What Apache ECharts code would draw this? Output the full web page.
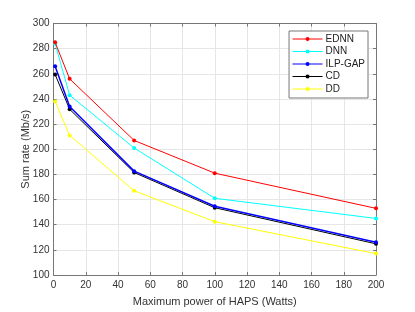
<!DOCTYPE html>
<html><head><meta charset="utf-8">
<script src="https://cdn.jsdelivr.net/npm/echarts@6/dist/echarts.min.js"></script>
<style>html,body{margin:0;padding:0;background:#fff}#c{width:415px;height:312px}</style>
</head><body><div id="c"></div>
<script>
const xValues = [1, 10, 50, 100, 200];
const seriesNames = ['EDNN', 'DNN', 'ILP-GAP', 'CD', 'DD'];
const ednn = [285, 256, 207, 181, 153];
const dnn = [284, 243, 201, 161, 145];
const ilpGap = [266, 234, 182.6, 154.7, 126];
const cd = [259.5, 231.8, 181.5, 153.5, 124.8];
const dd = [238, 211, 167, 142.4, 117];
const xTicks = [0, 20, 40, 60, 80, 100, 120, 140, 160, 180, 200];
const yTicks = [100, 120, 140, 160, 180, 200, 220, 240, 260, 280, 300];

const colors = ['#ff0000', '#00ffff', '#0000ff', '#000000', '#ffff00'];
const widths = [1, 1, 1.5, 1, 1];
const allData = [ednn, dnn, ilpGap, cd, dd];

const chart = echarts.init(document.getElementById('c'));
const font = 'Liberation Sans, Arial, sans-serif';
const axisCol = '#777';
const baseX = {
  type: 'value', min: xTicks[0], max: xTicks[xTicks.length - 1], interval: xTicks[1] - xTicks[0],
  axisLine: {show: true, onZero: false, lineStyle: {color: axisCol, width: 1}},
  axisTick: {show: true, inside: true, length: 3, lineStyle: {color: axisCol}},
  splitLine: {show: false}
};
const baseY = {
  type: 'value', min: yTicks[0], max: yTicks[yTicks.length - 1], interval: yTicks[1] - yTicks[0],
  axisLine: {show: true, onZero: false, lineStyle: {color: axisCol, width: 1}},
  axisTick: {show: true, inside: true, length: 3, lineStyle: {color: axisCol}},
  splitLine: {show: false}
};
chart.setOption({
  animation: false,
  grid: {left: 53.5, right: 39, top: 23.5, bottom: 35, containLabel: false},
  legend: {
    data: seriesNames, orient: 'vertical', right: 47, top: 31,
    backgroundColor: '#fff', borderColor: '#777', borderWidth: 1, borderRadius: 0,
    padding: [2, 3, 3, 3], itemGap: 0.5, itemWidth: 30, itemHeight: 5,
    lineStyle: {width: 1},
    textStyle: {fontFamily: font, fontSize: 10, color: '#222', padding: [0, 0, 0, -2], lineHeight: 12}
  },
  xAxis: [
    Object.assign({}, baseX, {
      position: 'bottom',
      name: 'Maximum power of HAPS (Watts)', nameLocation: 'middle', nameGap: 21,
      nameMoveOverlap: false,
      nameTextStyle: {fontFamily: font, fontSize: 11, color: '#333'},
      axisLabel: {fontFamily: font, fontSize: 10, color: '#333', margin: 5},
      splitLine: {show: true, lineStyle: {color: '#e6e6e6', width: 1}}
    }),
    Object.assign({}, baseX, {position: 'top', axisLabel: {show: false}})
  ],
  yAxis: [
    Object.assign({}, baseY, {
      position: 'left',
      name: 'Sum rate (Mb/s)', nameLocation: 'middle', nameGap: 28,
      nameMoveOverlap: false,
      nameTextStyle: {fontFamily: font, fontSize: 11, color: '#333', verticalAlign: 'middle'},
      axisLabel: {fontFamily: font, fontSize: 10, color: '#333', margin: 4},
      splitLine: {show: true, lineStyle: {color: '#e6e6e6', width: 1}}
    }),
    Object.assign({}, baseY, {position: 'right', axisLabel: {show: false}})
  ],
  series: seriesNames.map((n, i) => ({
    name: n, type: 'line', xAxisIndex: 0, yAxisIndex: 0,
    data: xValues.map((x, j) => [x, allData[i][j]]),
    symbol: 'circle', symbolSize: 4,
    lineStyle: {color: colors[i], width: widths[i]},
    itemStyle: {color: colors[i]},
    z: 10 - i
  }))
});
</script></body></html>
